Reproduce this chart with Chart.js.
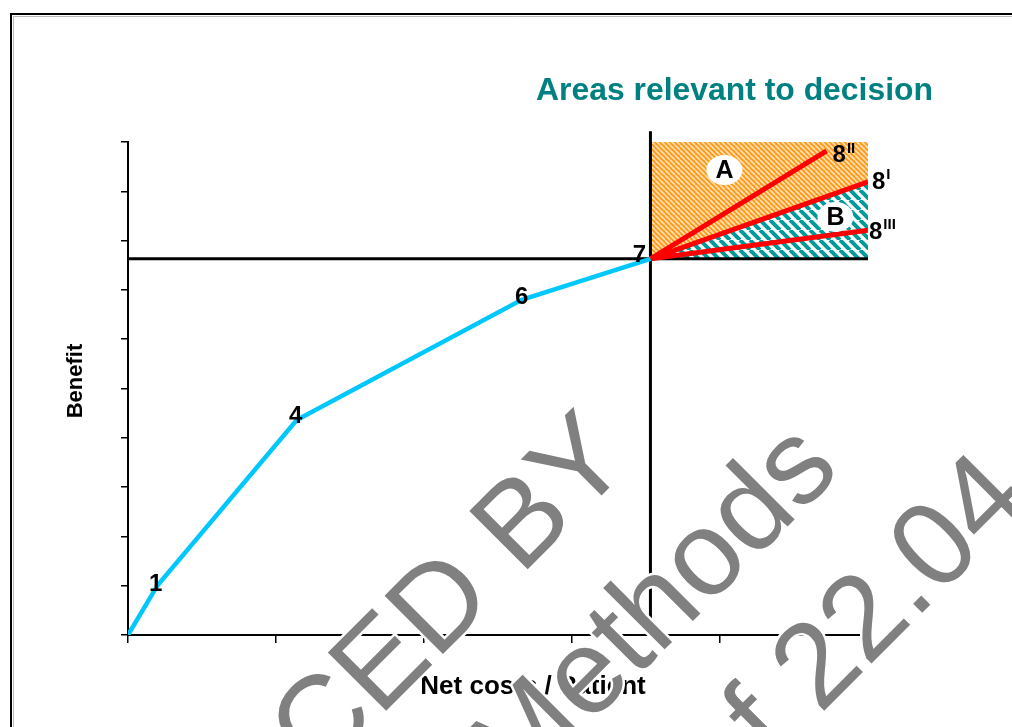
<!DOCTYPE html>
<html>
<head>
<meta charset="utf-8">
<script src="https://cdn.jsdelivr.net/npm/chart.js@4/dist/chart.umd.min.js"></script>
<style>
  html, body { margin: 0; padding: 0; background: #fff; overflow: hidden; }
  canvas { display: block; }
</style>
</head>
<body>
<canvas id="chart" width="1012" height="727"></canvas>
<script>
// ---- data ----
const curveCosts   = [0, 0.20, 1.14, 2.66, 3.53];
const curveBenefit = [0, 1.01, 4.36, 6.80, 7.63];
const curveLabels  = ['', '1', '4', '6', '7'];

const altBase    = ['8', '8', '8'];
const altSup     = ['II', 'I', 'III'];
const altCosts   = [4.72, 5.00, 5.00];
const altBenefit = [9.82, 9.19, 8.21];

const areaNames   = ['A', 'B'];
const areaCosts   = [4.03, 4.78];
const areaBenefit = [9.43, 8.48];

const xTicks = [0, 1, 2, 3, 4, 5];
const yTicks = [0, 1, 2, 3, 4, 5, 6, 7, 8, 9, 10];
const vertLineTop = 10.22;

const titleText = 'Areas relevant to decision';
const xTitle = 'Net costs / Patient';
const yTitle = 'Benefit';
const watermarkLines = ['CED BY', 'Methods', 'of 22.04'];

const FONT = '"Liberation Sans", Arial, sans-serif';
const k7 = curveCosts.length - 1;

// hatch patterns
function makeHatch(size, bg, fg, width) {
  const c = document.createElement('canvas');
  c.width = size; c.height = size;
  const g = c.getContext('2d');
  g.fillStyle = bg;
  g.fillRect(0, 0, size, size);
  g.strokeStyle = fg;
  g.lineWidth = width;
  g.beginPath();
  for (let k = -1; k <= 1; k++) {
    g.moveTo(k * size, 0);
    g.lineTo(k * size + size, size);
  }
  g.stroke();
  return g.createPattern(c, 'repeat');
}

const decisionPlugin = {
  id: 'decision',
  beforeDraw(chart) {
    const ctx = chart.ctx;
    ctx.save();
    ctx.strokeStyle = '#000';
    ctx.lineWidth = 2;
    ctx.beginPath();
    ctx.moveTo(11, 740);
    ctx.lineTo(11, 14);
    ctx.lineTo(1030, 14);
    ctx.stroke();
    ctx.strokeStyle = '#bbb';
    ctx.lineWidth = 1;
    ctx.beginPath();
    ctx.moveTo(13.5, 740);
    ctx.lineTo(13.5, 16.5);
    ctx.lineTo(1030, 16.5);
    ctx.stroke();
    ctx.restore();
  },
  beforeDatasetsDraw(chart) {
    const ctx = chart.ctx;
    const x = chart.scales.x, y = chart.scales.y;
    const px = v => x.getPixelForValue(v), py = v => y.getPixelForValue(v);
    const x7 = px(curveCosts[k7]), y7 = py(curveBenefit[k7]);
    const xr = px(xTicks[xTicks.length - 1]), yt = py(yTicks[yTicks.length - 1]);
    ctx.save();
    // area A (orange)
    ctx.fillStyle = makeHatch(5, '#ff9a1a', '#ffe2b8', 1.6);
    ctx.fillRect(x7, yt, xr - x7, y7 - yt);
    // area B (teal), under alternative 8I
    ctx.fillStyle = makeHatch(10, '#ffffff', '#009a9a', 4);
    ctx.beginPath();
    ctx.moveTo(x7, y7);
    ctx.lineTo(px(altCosts[1]), py(altBenefit[1]));
    ctx.lineTo(xr, y7);
    ctx.closePath();
    ctx.fill();
    ctx.restore();
  },
  afterDatasetsDraw(chart) {
    const ctx = chart.ctx;
    const x = chart.scales.x, y = chart.scales.y;
    const px = v => x.getPixelForValue(v), py = v => y.getPixelForValue(v);
    ctx.save();

    // circles A / B
    areaNames.forEach((n, i) => {
      const cx = px(areaCosts[i]), cy = py(areaBenefit[i]);
      ctx.fillStyle = '#fff';
      ctx.beginPath();
      ctx.ellipse(cx, cy, 18, 15, 0, 0, Math.PI * 2);
      ctx.fill();
      ctx.fillStyle = '#000';
      ctx.font = 'bold 25px ' + FONT;
      ctx.textAlign = 'center';
      ctx.textBaseline = 'middle';
      ctx.fillText(n, cx, cy + 1);
    });

    // point labels on the curve
    const labOff = [[0, 0], [-2, -2], [-1, -5], [0, -3], [-11, -4]];
    ctx.font = 'bold 24px ' + FONT;
    ctx.fillStyle = '#000';
    ctx.textAlign = 'center';
    ctx.textBaseline = 'middle';
    curveLabels.forEach((t, i) => {
      if (!t) return;
      ctx.fillText(t, px(curveCosts[i]) + labOff[i][0], py(curveBenefit[i]) + labOff[i][1] + 1);
    });

    // alternative labels 8II, 8I, 8III
    const altOff = [[6, 4], [4, -1], [1, 1]];
    ctx.textAlign = 'left';
    altBase.forEach((t, i) => {
      const lx = px(altCosts[i]) + altOff[i][0], ly = py(altBenefit[i]) + altOff[i][1];
      ctx.font = 'bold 24px ' + FONT;
      ctx.textBaseline = 'middle';
      ctx.fillText(t, lx, ly + 1);
      const w = ctx.measureText(t).width;
      ctx.font = 'bold 15px ' + FONT;
      ctx.fillText(altSup[i], lx + w + 1, ly - 6);
    });

    // title
    ctx.fillStyle = '#008080';
    ctx.font = 'bold 28px ' + FONT;
    const tw = ctx.measureText(titleText).width;
    const ts = 28 * 397 / tw;
    ctx.font = 'bold ' + ts.toFixed(1) + 'px ' + FONT;
    ctx.textAlign = 'left';
    ctx.textBaseline = 'alphabetic';
    ctx.fillText(titleText, 536, 100);

    // axis titles
    ctx.fillStyle = '#000';
    ctx.font = 'bold 26px "Liberation Sans Narrow", ' + FONT;
    ctx.textAlign = 'center';
    ctx.textBaseline = 'middle';
    ctx.fillText(xTitle, 533, 687, 243);
    ctx.translate(75, 381);
    ctx.rotate(-Math.PI / 2);
    ctx.font = 'bold 22px ' + FONT;
    ctx.fillText(yTitle, 0, 1);
    ctx.restore();
  },
  afterDraw(chart) {
    const ctx = chart.ctx;
    const spots = [[476, 621], [680, 634], [879, 656]];
    ctx.save();
    ctx.font = '120px ' + FONT;
    ctx.textAlign = 'center';
    ctx.textBaseline = 'alphabetic';
    ctx.lineJoin = 'round';
    watermarkLines.forEach((t, i) => {
      ctx.save();
      ctx.translate(spots[i][0], spots[i][1]);
      ctx.rotate(-45 * Math.PI / 180);
      ctx.strokeStyle = '#fff';
      ctx.lineWidth = 5;
      ctx.strokeText(t, 0, 0);
      ctx.fillStyle = '#808080';
      ctx.fillText(t, 0, 0);
      ctx.restore();
    });
    ctx.restore();
  }
};

const pts = (xs, ys) => xs.map((v, i) => ({ x: v, y: ys[i] }));

const datasets = [
  {
    label: 'Efficiency frontier',
    data: pts(curveCosts, curveBenefit),
    borderColor: '#00c8ff', borderWidth: 4.5, order: 1
  },
  ...altBase.map((b, i) => ({
    label: b + altSup[i],
    data: [
      { x: curveCosts[k7], y: curveBenefit[k7] },
      { x: altCosts[i], y: altBenefit[i] }
    ],
    borderColor: '#ff0000', borderWidth: 5, order: 2
  })),
  {
    label: 'benefit of 7',
    data: [{ x: xTicks[0], y: curveBenefit[k7] }, { x: xTicks[xTicks.length - 1], y: curveBenefit[k7] }],
    borderColor: '#000', borderWidth: 3, order: 3
  },
  {
    label: 'costs of 7',
    data: [{ x: curveCosts[k7], y: yTicks[0] }, { x: curveCosts[k7], y: vertLineTop }],
    borderColor: '#000', borderWidth: 3, order: 3, clip: false
  }
];

new Chart(document.getElementById('chart'), {
  type: 'scatter',
  data: { datasets: datasets.map(d => Object.assign({ showLine: true, pointRadius: 0, fill: false, borderCapStyle: 'butt' }, d)) },
  options: {
    responsive: false,
    animation: false,
    devicePixelRatio: 1,
    layout: { padding: { left: 121, right: 144, top: 142, bottom: 84 } },
    plugins: { legend: { display: false }, tooltip: { enabled: false }, title: { display: false } },
    scales: {
      x: {
        type: 'linear', min: xTicks[0], max: xTicks[xTicks.length - 1],
        afterBuildTicks: s => { s.ticks = xTicks.map(v => ({ value: v })); },
        afterFit: s => { s.height = 8; },
        ticks: { display: false },
        grid: { drawOnChartArea: false, drawTicks: true, tickLength: 8, color: '#000', lineWidth: 1.5 },
        border: { display: true, color: '#000', width: 2 }
      },
      y: {
        type: 'linear', min: yTicks[0], max: yTicks[yTicks.length - 1],
        afterBuildTicks: s => { s.ticks = yTicks.map(v => ({ value: v })); },
        afterFit: s => { s.width = 7; },
        ticks: { display: false },
        grid: { drawOnChartArea: false, drawTicks: true, tickLength: 7, color: '#000', lineWidth: 1.5 },
        border: { display: true, color: '#000', width: 2 }
      }
    }
  },
  plugins: [decisionPlugin]
});
</script>
</body>
</html>
